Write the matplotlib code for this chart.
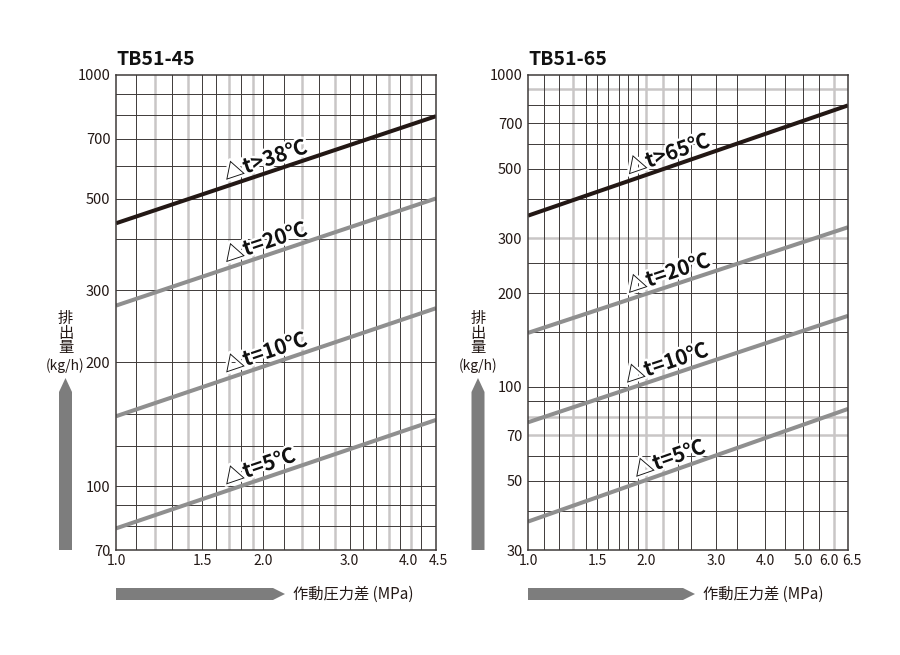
import numpy as np
import matplotlib.pyplot as plt
import matplotlib.patheffects as pe
from matplotlib.patches import FancyArrow
from matplotlib.ticker import NullLocator
from matplotlib.transforms import ScaledTranslation

plt.rcParams['font.family'] = ['Noto Sans CJK JP', 'DejaVu Sans']

# TB51-45: discharge (kg/h) at 1.0 and 4.5 MPa
x45 = [1.0, 4.5]
q45_38 = [436, 794]
q45_20 = [275, 501]
q45_10 = [148, 271]
q45_5 = [79, 145]
names45 = ['△t>38℃', '△t=20℃', '△t=10℃', '△t=5℃']
xticks45 = [1.0, 1.5, 2.0, 3.0, 4.0, 4.5]
yticks45 = [70, 100, 200, 300, 500, 700, 1000]

# TB51-65: discharge (kg/h) at 1.0 and 6.5 MPa
x65 = [1.0, 6.5]
q65_65 = [354, 799]
q65_20 = [149, 325]
q65_10 = [77, 169]
q65_5 = [37, 85]
names65 = ['△t>65℃', '△t=20℃', '△t=10℃', '△t=5℃']
xticks65 = [1.0, 1.5, 2.0, 3.0, 4.0, 5.0, 6.0, 6.5]
yticks65 = [30, 50, 70, 100, 200, 300, 500, 700, 1000]

# grid lines (dark / light)
xgrid45_k = [1.1, 1.3, 1.5, 1.6, 1.8, 2.0, 2.2, 2.6, 3.0, 3.2, 3.4, 3.8, 4.2]
xgrid45_g = [1.2, 1.4, 1.7, 1.9, 2.4, 2.8, 3.6, 4.0]
ygrid45_k = [80, 90, 100, 125, 150, 200, 300, 400, 500, 600, 700, 800, 900]
ygrid45_g = []

xgrid65_k = [1.1, 1.2, 1.4, 1.5, 1.6, 1.7, 1.8, 1.9, 2.4, 2.6, 3.0, 3.4,
             4.0, 4.5, 5.0, 5.5]
xgrid65_g = [1.3, 2.0, 2.2, 6.0]
ygrid65_k = [40, 50, 60, 90, 100, 150, 200, 250, 400, 500, 600, 700, 800]
ygrid65_g = [70, 80, 300, 900]

BLACK = '#231815'
GRAY = '#8f8f8f'
GRID_K = '#3e3a39'
GRID_G = '#c9c6c6'
ARROW = '#7d7d7d'

fig = plt.figure(figsize=(9, 6.55), dpi=100)
ax1 = fig.add_axes([116 / 900, 1 - 550 / 655, 320 / 900, 475 / 655])
ax2 = fig.add_axes([528 / 900, 1 - 550 / 655, 320 / 900, 475 / 655])


def setup(ax, title, xlim, ylim, xticks, yticks, xk, xg, yk, yg):
    ax.set_xscale('log')
    ax.set_yscale('log')
    ax.set_xlim(*xlim)
    ax.set_ylim(*ylim)
    for v in xg:
        ax.axvline(v, color=GRID_G, lw=1.8, zorder=1)
    for v in yg:
        ax.axhline(v, color=GRID_G, lw=1.8, zorder=1)
    for v in xk:
        ax.axvline(v, color=GRID_K, lw=0.7, zorder=1.5)
    for v in yk:
        ax.axhline(v, color=GRID_K, lw=0.7, zorder=1.5)
    ax.xaxis.set_minor_locator(NullLocator())
    ax.yaxis.set_minor_locator(NullLocator())
    ax.set_xticks(xticks)
    ax.set_xticklabels(['%.1f' % t for t in xticks])
    ax.set_yticks(yticks)
    ax.set_yticklabels([str(t) for t in yticks])
    ax.tick_params(length=0, labelsize=10.5, colors='#231815')
    ax.tick_params(axis='x', pad=3, labelsize=10)
    ax.tick_params(axis='y', pad=4)
    for s in ax.spines.values():
        s.set_color(GRID_K)
        s.set_linewidth(1.1)
        s.set_zorder(5)
    ax.text(0, 1 + 10 / 475, title, transform=ax.transAxes, ha='left',
            va='baseline', fontsize=14, fontweight='bold', color='#111111')


def nudge(label, dx_px):
    label.set_transform(label.get_transform() +
                        ScaledTranslation(dx_px / 100, 0, fig.dpi_scale_trans))


def curve(ax, x, q, color, name, xstart):
    ax.plot(x, q, color=color, lw=2.9, solid_capstyle='butt', zorder=3)
    # label along the line, slightly above it
    p0, p1 = ax.transData.transform(np.column_stack([x, q]))
    ang = np.degrees(np.arctan2(p1[1] - p0[1], p1[0] - p0[0]))
    t = np.log(xstart / x[0]) / np.log(x[1] / x[0])
    ys = q[0] * (q[1] / q[0]) ** t
    pa = ax.transData.transform((xstart, ys))
    nrm = np.array([-np.sin(np.radians(ang)), np.cos(np.radians(ang))])
    pa = pa + nrm * 6
    xd, yd = ax.transData.inverted().transform(pa)
    ax.text(xd, yd, name, rotation=ang, rotation_mode='anchor', ha='left',
            va='baseline', fontsize=15, fontweight='bold', color='#111111',
            zorder=6,
            path_effects=[pe.withStroke(linewidth=3.5, foreground='white')])


setup(ax1, 'TB51-45', (1.0, 4.5), (70, 1000), xticks45, yticks45,
      xgrid45_k, xgrid45_g, ygrid45_k, ygrid45_g)
setup(ax2, 'TB51-65', (1.0, 6.5), (30, 1000), xticks65, yticks65,
      xgrid65_k, xgrid65_g, ygrid65_k, ygrid65_g)

# keep the crowded end labels apart
xl1 = ax1.get_xticklabels()
nudge(xl1[-2], -3)
nudge(xl1[-1], 2)
xl2 = ax2.get_xticklabels()
nudge(xl2[-2], -5)
nudge(xl2[-1], 4)

curve(ax1, x45, q45_38, BLACK, names45[0], 1.69)
curve(ax1, x45, q45_20, GRAY, names45[1], 1.69)
curve(ax1, x45, q45_10, GRAY, names45[2], 1.69)
curve(ax1, x45, q45_5, GRAY, names45[3], 1.69)

curve(ax2, x65, q65_65, BLACK, names65[0], 1.82)
curve(ax2, x65, q65_20, GRAY, names65[1], 1.82)
curve(ax2, x65, q65_10, GRAY, names65[2], 1.80)
curve(ax2, x65, q65_5, GRAY, names65[3], 1.90)

# axis titles and fat arrows (positions in inches from lower-left)
tr = fig.dpi_scale_trans
for xc, xa0, xa1, xt in [(65.5, 116, 285, 293), (478, 528, 695, 703)]:
    fig.add_artist(FancyArrow(xc / 100, (655 - 550) / 100, 0, 1.72,
                              width=0.13, head_width=0.13, head_length=0.14,
                              length_includes_head=True, color=ARROW, lw=0,
                              transform=tr))
    fig.add_artist(FancyArrow(xa0 / 100, (655 - 594) / 100,
                              (xa1 - xa0) / 100, 0,
                              width=0.12, head_width=0.12, head_length=0.12,
                              length_includes_head=True, color=ARROW, lw=0,
                              transform=tr))
    fig.text(xc / 900, 1 - 333 / 655, '排\n出\n量', ha='center', va='center',
             fontsize=11, linespacing=0.82, color='#231815')
    fig.text(xc / 900, 1 - 366 / 655, '(kg/h)', ha='center', va='center',
             fontsize=10, color='#231815')
    fig.text(xt / 900, 1 - 594 / 655, '作動圧力差 (MPa)', ha='left',
             va='center', fontsize=11, color='#231815')

fig.savefig('out.png', dpi=100)
